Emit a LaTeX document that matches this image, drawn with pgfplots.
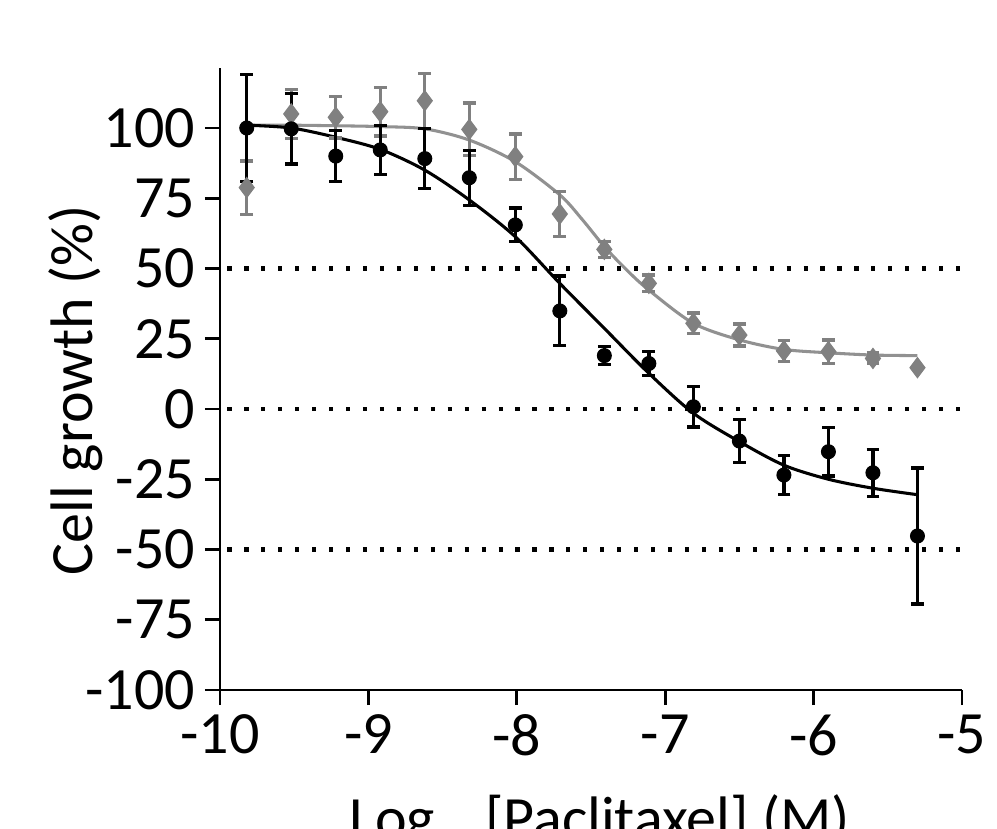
\documentclass[border=0pt]{standalone}
\usepackage{fontspec}
\setmainfont{Carlito}
\usepackage{pgfplots}
\pgfplotsset{compat=1.18}
\definecolor{ser2}{RGB}{128,128,128}
\definecolor{fit2}{RGB}{145,145,145}
\newcommand{\bigfont}{\fontsize{21.6}{26}\selectfont}

\begin{document}
\begin{tikzpicture}
\useasboundingbox (0,0) rectangle (358.92pt,298.08pt);
\begin{axis}[
    at={(79.2pt,49.68pt)}, anchor=south west,
    scale only axis,
    width=267.12pt, height=223.92pt,
    xmin=-10, xmax=-5,
    ymin=-100, ymax=121.35,
    axis lines=left,
    axis line style={-, line width=1pt},
    tick align=outside,
    major tick length=5.4pt,
    tick style={line width=1pt, black},
    xtick={-10,-9,-8,-7,-6,-5},
    xticklabels={-10,-9,-8,-7,-6,-5},
    ytick={-100,-75,-50,-25,0,25,50,75,100},
    yticklabels={-100,-75,-50,-25,0,25,50,75,100},
    tick label style={font=\bigfont},
    clip=false,
]
% reference lines
\addplot[black, line width=1.5pt, dash pattern=on 1.5pt off 4.6pt] coordinates {(-9.95,50) (-5,50)};
\addplot[black, line width=1.5pt, dash pattern=on 1.5pt off 4.6pt] coordinates {(-9.95,0) (-5,0)};
\addplot[black, line width=1.5pt, dash pattern=on 1.5pt off 4.6pt] coordinates {(-9.95,-50) (-5,-50)};

% fitted curves
\addplot[fit2, line width=1.1pt, smooth] coordinates {
    (-9.82,101) (-9.52,101) (-9.22,100.8) (-8.92,100.5) (-8.62,99.7)
    (-8.32,95.7) (-8.01,88) (-7.71,76.2) (-7.56,67.5) (-7.41,57.8)
    (-7.26,49.5) (-7.11,42.3) (-6.81,30.5) (-6.50,24.6) (-6.20,21.2)
    (-5.90,20) (-5.60,19.2) (-5.30,19)
};
\addplot[black, line width=1.1pt, smooth] coordinates {
    (-9.82,101) (-9.52,100) (-9.22,96.7) (-8.92,92.4) (-8.62,85)
    (-8.32,74.4) (-8.01,61.3) (-7.71,44.7) (-7.41,28.7) (-7.11,12.7)
    (-6.81,-1.5) (-6.50,-11.6) (-6.20,-20) (-5.90,-25) (-5.60,-28.2)
    (-5.30,-30.5)
};

% gray series
\addplot[only marks, mark=diamond*, mark size=3.6pt, color=ser2,
    error bars/.cd, y dir=both, y explicit,
    error bar style={line width=1.2pt, ser2},
    error mark options={rotate=90, mark size=2.3pt, line width=1.2pt, ser2}]
coordinates {
    (-9.82,78.8) +- (0,9.5)
    (-9.52,105) +- (0,8.7)
    (-9.22,103.8) +- (0,7.4)
    (-8.92,105.8) +- (0,8.6)
    (-8.62,109.7) +- (0,9.8)
    (-8.32,99.5) +- (0,9.4)
    (-8.01,89.8) +- (0,8.1)
    (-7.71,69.4) +- (0,7.9)
    (-7.41,56.8) +- (0,2.9)
    (-7.11,44.7) +- (0,3)
    (-6.81,30.5) +- (0,3.7)
    (-6.50,26.3) +- (0,3.9)
    (-6.20,20.7) +- (0,3.7)
    (-5.90,20.4) +- (0,4.2)
    (-5.60,18) +- (0,1.9)
    (-5.30,14.7) +- (0,0)
};

% black series
\addplot[only marks, mark=*, mark size=2.5pt, color=black,
    error bars/.cd, y dir=both, y explicit,
    error bar style={line width=1.2pt, black},
    error mark options={rotate=90, mark size=2.3pt, line width=1.2pt, black}]
coordinates {
    (-9.82,100) +- (0,19)
    (-9.52,99.7) +- (0,12.5)
    (-9.22,90) +- (0,9)
    (-8.92,92.2) +- (0,8.8)
    (-8.62,89.1) +- (0,10.7)
    (-8.32,82.3) +- (0,9.8)
    (-8.01,65.5) +- (0,6)
    (-7.71,34.9) +- (0,12.4)
    (-7.41,19) +- (0,3.2)
    (-7.11,16.2) +- (0,4.3)
    (-6.81,0.8) +- (0,7.2)
    (-6.50,-11.4) +- (0,7.6)
    (-6.20,-23.5) +- (0,7)
    (-5.90,-15.2) +- (0,8.7)
    (-5.60,-22.7) +- (0,8.4)
    (-5.30,-45.2) +- (0,24.2)
};
\end{axis}
\node[rotate=90, anchor=base, font=\bigfont] at (33.48pt,157.68pt) {Cell growth (\%)};
\node[anchor=base, font=\bigfont] at (216pt,-3.6pt) {Log\raisebox{-0.3em}{\fontsize{13}{15}\selectfont 10} [Paclitaxel] (M)};
\end{tikzpicture}
\end{document}
